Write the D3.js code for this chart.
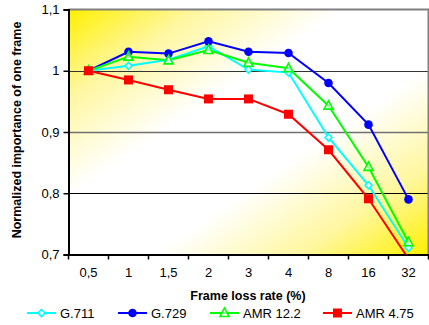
<!DOCTYPE html>
<html><head><meta charset="utf-8">
<script src="https://cdn.jsdelivr.net/npm/d3@7"></script>
<style>body{margin:0;background:#fff}svg{display:block;font-family:"Liberation Sans",Arial,sans-serif}</style>
</head><body><svg id="c" width="429" height="325"></svg>
<script>
const categories = ["0,5","1","1,5","2","3","4","8","16","32"];
const g711 = [1.0, 1.008, 1.018, 1.040, 1.002, 0.997, 0.891, 0.813, 0.711];
const g729 = [1.0, 1.031, 1.028, 1.048, 1.031, 1.029, 0.980, 0.912, 0.790];
const amr122 = [1.0, 1.023, 1.017, 1.034, 1.013, 1.004, 0.943, 0.843, 0.720];
const amr475 = [1.0, 0.985, 0.969, 0.954, 0.954, 0.929, 0.871, 0.791, 0.693];
const yTicks = [0.7, 0.8, 0.9, 1.0, 1.1];
const yTickLabels = ["0,7","0,8","0,9","1","1,1"];
const seriesNames = ["G.711","G.729","AMR 12.2","AMR 4.75"];
const seriesColors = ["#00FFFF","#0000FF","#00FF00","#FF0000"];
const seriesMarkers = ["diamond","circle","triangle","square"];
const seriesData = [g711, g729, amr122, amr475];

const svg = d3.select("#c");
const L = 68.5, R = 428.5, T = 9.5, B = 254.5;
const x = d3.scaleBand().domain(categories).range([L, R]);
const y = d3.scaleLinear().domain([0.7, 1.1]).range([B, T]);

const defs = svg.append("defs");
const gr = defs.append("linearGradient").attr("id","bg").attr("x1","0").attr("y1","0").attr("x2","1").attr("y2","1");
[[0,"#FFF000"],[0.18,"#FFF7A0"],[0.38,"#FFFFFF"],[0.62,"#FFFFFF"],[0.82,"#FFF7A0"],[1,"#FFF000"]].forEach(s=>
  gr.append("stop").attr("offset",s[0]).attr("stop-color",s[1]));
defs.append("clipPath").attr("id","clip").append("rect").attr("x",L).attr("y",T).attr("width",R-L).attr("height",B-T);

svg.append("rect").attr("x",L).attr("y",T).attr("width",R-L).attr("height",B-T).attr("fill","url(#bg)");
// grid
const gridColors = {"0.8":"#000","0.9":"#707070","1":"#333"};
svg.append("g").selectAll("line").data([0.8,0.9,1.0]).join("line")
  .attr("x1",L).attr("x2",R).attr("y1",d=>Math.round(y(d))+0.5).attr("y2",d=>Math.round(y(d))+0.5)
  .attr("stroke",d=>gridColors[String(d)]).attr("stroke-width",d=>d===0.9?1.6:1.2);
// top/right border
svg.append("path").attr("d",`M${L},${T}H${R}V${B}`).attr("fill","none").attr("stroke","#808080").attr("stroke-width",2);

// axes
const yAxis = d3.axisLeft(y).tickValues(yTicks).tickFormat((d,i)=>yTickLabels[i]).tickSize(5).tickPadding(4);
const gy = svg.append("g").attr("transform",`translate(${L},0)`).call(yAxis);
gy.select(".domain").attr("stroke","#000").attr("stroke-width",2);
gy.selectAll(".tick line").attr("stroke","#000").attr("stroke-width",1.5);
gy.selectAll("text").attr("font-size",13).attr("font-family","Liberation Sans, Arial, sans-serif").attr("fill","#000");

const xAxis = d3.axisBottom(x).tickSize(0).tickPadding(13);
const gx = svg.append("g").attr("transform",`translate(0,${B})`).call(xAxis);
gx.select(".domain").attr("stroke","#000").attr("stroke-width",2);
gx.selectAll("text").attr("font-size",13).attr("font-family","Liberation Sans, Arial, sans-serif").attr("fill","#000");
// boundary ticks
const bounds = categories.map(c=>x(c)).concat([R]);
svg.append("g").selectAll("line").data(bounds).join("line")
  .attr("x1",d=>d).attr("x2",d=>d).attr("y1",B).attr("y2",B+5).attr("stroke","#000").attr("stroke-width",1.5);

const cx = c => x(c) + x.bandwidth()/2;
const line = d3.line().x((d,i)=>cx(categories[i])).y(d=>y(d));

const plot = svg.append("g").attr("clip-path","url(#clip)");
function marker(g, type, color, px, py) {
  if (type==="circle") g.append("circle").attr("cx",px).attr("cy",py).attr("r",4.3).attr("fill",color);
  else if (type==="square") g.append("rect").attr("x",px-4.5).attr("y",py-4.5).attr("width",9).attr("height",9).attr("fill",color);
  else if (type==="triangle") g.append("path").attr("d",`M${px},${py-5}L${px+4.5},${py+3.5}L${px-4.5},${py+3.5}Z`).attr("fill","#fff").attr("fill-opacity",0.6).attr("stroke",color).attr("stroke-width",1.6);
  else g.append("path").attr("d",`M${px},${py-3.5}L${px+3.5},${py}L${px},${py+3.5}L${px-3.5},${py}Z`).attr("fill","#fff").attr("stroke",color).attr("stroke-width",1.6);
}
seriesData.forEach((data,k)=>{
  plot.append("path").datum(data).attr("d",line).attr("fill","none").attr("stroke",seriesColors[k]).attr("stroke-width",2);
});
seriesData.forEach((data,k)=>{
  const mg = plot.append("g");
  data.forEach((v,i)=>{ if (v>=0.7) marker(mg, seriesMarkers[k], seriesColors[k], cx(categories[i]), y(v)); });
});

// titles
svg.append("text").attr("x",248).attr("y",300).attr("text-anchor","middle").attr("font-size",12.5).attr("font-weight","bold").text("Frame loss rate (%)");
svg.append("text").attr("transform",`translate(21,${130}) rotate(-90)`).attr("text-anchor","middle").attr("font-size",12.5).attr("font-weight","bold").text("Normalized importance of one frame");

// legend
const legX = [27,118,210,323];
seriesNames.forEach((n,k)=>{
  const g = svg.append("g");
  const ly = 313;
  g.append("line").attr("x1",legX[k]).attr("x2",legX[k]+29).attr("y1",ly).attr("y2",ly).attr("stroke",seriesColors[k]).attr("stroke-width",2);
  marker(g, seriesMarkers[k], seriesColors[k], legX[k]+14.5, ly);
  g.append("text").attr("x",legX[k]+33).attr("y",ly+4.5).attr("font-size",13).text(n);
});
</script></body></html>
